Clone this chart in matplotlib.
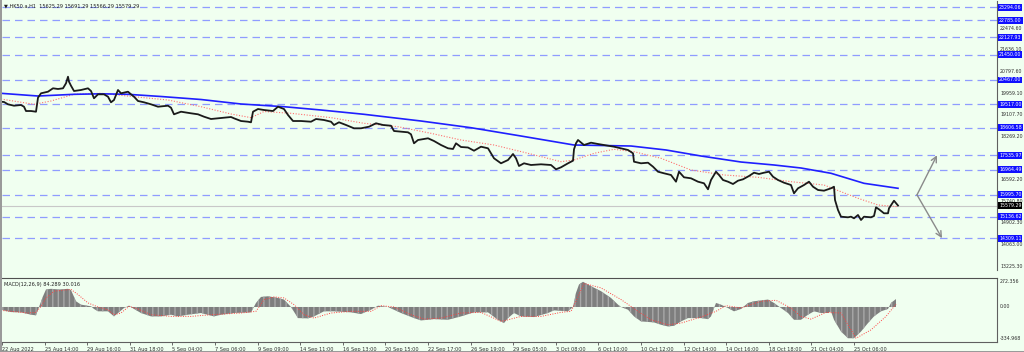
import matplotlib
matplotlib.use("Agg")
import matplotlib.pyplot as plt
from matplotlib.transforms import blended_transform_factory
from matplotlib.patches import Rectangle

# ---------------- data ----------------
title_text = "HK50.a,H1  15625.29 15691.29 15566.29 15579.29"
macd_text = "MACD(12,26,9) 84.289 30.016"

# bar index (hourly bars) and close prices
price_x = [0, 3, 7, 13, 20, 23, 25, 30, 35, 37, 40, 47, 52, 57, 62, 65, 67, 68, 70, 73,
           80, 87, 90, 93, 97, 103, 107, 110, 113, 117, 120, 127, 130, 133, 137, 143, 150, 157, 167, 170,
           173, 180, 190, 197, 203, 210, 217, 223, 230, 233, 240, 247, 250, 252, 257, 263, 272, 277, 283, 287,
           292, 300, 310, 315, 323, 330, 333, 338, 345, 353, 360, 368, 375, 382, 390, 393, 400, 407, 410, 413,
           417, 427, 433, 440, 447, 452, 455, 460, 467, 473, 480, 487, 493, 500, 507, 512, 515, 518, 523, 530,
           540, 550, 555, 560, 567, 572, 573, 575, 577, 583, 590, 597, 603, 613, 620, 627, 632, 633, 640, 647,
           652, 657, 663, 670, 675, 678, 683, 690, 697, 703, 707, 710, 715, 718, 722, 727, 732, 737, 742, 748,
           753, 758, 763, 768, 772, 777, 783, 790, 793, 797, 803, 808, 812, 817, 823, 830, 833, 834, 837, 840,
           847, 850, 853, 857, 860, 863, 870, 873, 875, 878, 883, 887, 888, 893, 897]
price = [19620, 19609, 19519, 19465, 19492, 19426, 19258, 19258, 19231, 19776, 19947, 20010, 20142, 20115, 20142, 20337, 20593, 20399, 20243, 20037,
         20076, 20142, 20037, 19753, 19908, 19908, 19815, 19597, 19687, 20076, 19947, 20010, 19908, 19815, 19648, 19597, 19519, 19426, 19465, 19387,
         19130, 19231, 19169, 19130, 19037, 18947, 18974, 18998, 19025, 18974, 18869, 18842, 18819, 19231, 19336, 19297, 19258, 19426, 19336, 19103,
         18869, 18869, 18842, 18947, 18908, 18842, 18714, 18819, 18714, 18585, 18585, 18647, 18780, 18714, 18686, 18480, 18453, 18429, 18352, 18001,
         18130, 18196, 18091, 17935, 17807, 17780, 18001, 17857, 17838, 17713, 17869, 17807, 17418, 17223, 17351, 17585, 17418, 17118, 17223, 17157,
         17184, 17157, 16989, 17067, 17223, 17324, 17768, 18001, 18130, 17935, 18025, 17974, 17935, 17869, 17807, 17741, 17612, 17285, 17223, 17246,
         17091, 16896, 16834, 16768, 16507, 16896, 16678, 16639, 16507, 16445, 16211, 16573, 16896, 16768, 16573, 16507, 16417, 16546, 16600, 16729,
         16857, 16807, 16857, 16896, 16701, 16573, 16468, 16378, 16055, 16250, 16378, 16507, 16312, 16184, 16157, 16250, 16312, 15795, 15406, 15145,
         15121, 15145, 15082, 15211, 15016, 15145, 15121, 15172, 15510, 15432, 15277, 15277, 15472, 15767, 15579.29]

# slow moving average (blue)
ma_slow_x = [0, 37, 73, 100, 127, 160, 200, 240, 283, 320, 363, 420, 470, 520, 573, 630, 665, 700, 740, 773, 800, 830, 863, 897]
ma_slow = [19947, 19842, 19908, 19928, 19908, 19823, 19706, 19531, 19426, 19297, 19130, 18869, 18608, 18285, 17935, 17896, 17741, 17507, 17273, 17157, 17040, 16834, 16444, 16250]

# fast moving average (red dotted)
ma_fast_x = [0, 33, 50, 73, 100, 133, 167, 200, 230, 250, 263, 290, 330, 363, 397, 430, 460, 493, 527, 560, 573, 593, 613, 633, 660, 690, 723, 757, 790, 823, 840, 857, 877, 897]
ma_fast = [19725, 19519, 19648, 19908, 19947, 19815, 19687, 19426, 19142, 19000, 19239, 19169, 19000, 18780, 18647, 18390, 18130, 17935, 17612, 17285, 17351, 17612, 17768, 17674, 17418, 16962, 16768, 16678, 16507, 16378, 16118, 15861, 15600, 15534]

# horizontal levels (blue dashed with labels)
levels = [23294.06, 22785.00, 22127.93, 21450.00, 20467.00, 19517.00, 18606.58, 17535.97, 16964.49, 15995.70, 15136.62, 14309.11]
current_price = 15579.29
price_ticks = [22474.60, 21636.10, 20797.60, 19959.10, 19107.70, 18269.20, 16592.20, 15740.80, 14902.30, 14063.00, 13225.30]

# projection arrows
arrow_x = [916, 936, 941]
arrow_from = 15995.70
arrow_up_to = 17535.97
arrow_down_to = 14309.11

# MACD histogram
macd_x = [0, 10, 20, 30, 35, 38, 42, 45, 50, 58, 67, 70, 75, 80, 90, 93, 97, 107, 113, 117,
          123, 128, 133, 140, 150, 160, 170, 177, 187, 200, 213, 220, 233, 250, 255, 260, 267, 277, 283, 290,
          297, 307, 313, 323, 333, 350, 360, 370, 377, 387, 400, 413, 420, 433, 447, 460, 473, 487, 497, 503,
          507, 513, 520, 533, 547, 553, 567, 572, 575, 578, 582, 590, 600, 610, 617, 620, 627, 633, 640, 653,
          660, 667, 673, 680, 687, 700, 707, 710, 715, 720, 727, 733, 740, 747, 753, 767, 773, 780, 787, 793,
          800, 807, 813, 820, 827, 830, 833, 840, 847, 853, 860, 867, 873, 880, 887, 890, 895]
macd = [-29, -54, -57, -82, -89, 0, 114, 186, 193, 186, 193, 179, 61, 25, 7, -21, -46, -46, -100, -64,
        -11, 14, -21, -64, -100, -100, -82, -100, -82, -64, -100, -82, -64, -57, 43, 107, 114, 96, 79, 0,
        -118, -121, -100, -46, -46, -57, -75, -29, 14, 0, -64, -118, -143, -129, -136, -100, -57, -57, -136, -171,
        -118, -64, -100, -107, -64, -36, -46, 0, 150, 239, 268, 221, 168, 96, 25, 0, -29, -100, -153, -164,
        -189, -207, -200, -153, -118, -118, -129, -100, 43, 25, -11, -46, -21, 43, 61, 79, 43, -11, -64, -136,
        -136, -82, -46, -64, -64, -46, -136, -261, -332, -332, -261, -171, -100, -46, -21, 43, 84.289]

# MACD signal (red dotted)
signal_x = [0, 10, 27, 35, 40, 45, 53, 63, 70, 77, 87, 97, 107, 113, 120, 128, 137, 150, 170, 190,
            210, 240, 255, 263, 273, 283, 293, 303, 313, 330, 350, 370, 380, 393, 410, 423, 440, 460, 480, 500,
            507, 520, 540, 560, 570, 575, 583, 600, 620, 637, 650, 667, 680, 700, 715, 725, 740, 760, 775, 790,
            800, 810, 825, 840, 850, 855, 870, 885, 895]
signal = [-36, -46, -64, -57, 7, 96, 168, 179, 186, 132, 43, 0, -29, -82, -64, 7, -21, -82, -100, -100,
          -82, -64, -46, 79, 107, 96, 25, -82, -118, -64, -46, -46, 14, 0, -82, -129, -118, -64, -57, -153,
          -136, -100, -100, -57, -46, 61, 250, 203, 79, -46, -136, -189, -171, -107, -46, 14, -11, 61, 71, -11,
          -100, -129, -57, -64, -243, -332, -243, -100, 30.016]
macd_ticks = [272.356, 0.00, -334.968]

date_labels = ["22 Aug 2022", "25 Aug 14:00", "29 Aug 16:00", "31 Aug 18:00", "5 Sep 04:00", "7 Sep 06:00",
               "9 Sep 09:00", "14 Sep 11:00", "16 Sep 13:00", "20 Sep 15:00", "22 Sep 17:00", "26 Sep 19:00",
               "29 Sep 05:00", "3 Oct 08:00", "6 Oct 10:00", "10 Oct 12:00", "12 Oct 14:00", "14 Oct 16:00",
               "18 Oct 18:00", "21 Oct 04:00", "25 Oct 06:00"]

# ---------------- style ----------------
BG = "#f0fff0"
W, H = 1024, 352
plt.rcParams['font.family'] = ['DejaVu Sans']

fig = plt.figure(figsize=(W / 100, H / 100), dpi=100, facecolor=BG)

def fy(px):
    return 1 - px / H

x_left, x_right = 2, 997
ax = fig.add_axes([x_left / W, fy(270), (x_right - x_left) / W, fy(1) - fy(270)], facecolor=BG)
ax2 = fig.add_axes([x_left / W, fy(342), (x_right - x_left) / W, fy(278) - fy(342)], facecolor=BG, sharex=ax)

ax.set_xlim(1, 996)
ax.set_ylim(13070, 23540)
ax2.set_ylim(-372, 308)

for a in (ax, ax2):
    for s in ("left", "top", "bottom"):
        a.spines[s].set_visible(False)
    a.spines["right"].set_color("#606060")
    a.spines["right"].set_linewidth(0.8)
    a.set_yticks([])
ax2.spines["top"].set_visible(True)
ax2.spines["top"].set_color("#505050")
ax2.spines["top"].set_linewidth(0.8)
ax2.spines["bottom"].set_visible(True)
ax2.spines["bottom"].set_color("#606060")
ax2.spines["bottom"].set_linewidth(0.8)

# levels
for lv in levels:
    ax.axhline(lv, color="#8f9cff", lw=0.9, dashes=(6, 4), zorder=1)
ax.axhline(current_price, color="#c8c8c8", lw=0.8, zorder=1)

# MAs and price
ax.plot(ma_fast_x, ma_fast, color="#ff7070", lw=0.8, ls=(0, (1, 1.5)), zorder=2)
ax.plot(ma_slow_x, ma_slow, color="#1f1fff", lw=1.2, zorder=3)
ax.plot(price_x, price, color="#1a1a1a", lw=1.3, zorder=4)

# arrows
ax.annotate("", xy=(arrow_x[1], arrow_up_to), xytext=(arrow_x[0], arrow_from),
            arrowprops=dict(arrowstyle="->", color="#8a8a8a", lw=1.0, shrinkA=0, shrinkB=0))
ax.annotate("", xy=(arrow_x[2], arrow_down_to), xytext=(arrow_x[0], arrow_from),
            arrowprops=dict(arrowstyle="->", color="#8a8a8a", lw=1.0, shrinkA=0, shrinkB=0))

# right axis labels
FS = 3.4
tr = blended_transform_factory(ax.transAxes, ax.transData)
for t in price_ticks:
    ax.text(1.003, t, f"{t:.2f}", transform=tr, fontsize=FS, color="#303030",
            va="center", ha="left", clip_on=False)
for lv in levels:
    ax.text(1.002, lv, f"{lv:.2f}", transform=tr, fontsize=FS, color="white",
            va="center", ha="left", clip_on=False,
            bbox=dict(boxstyle="square,pad=0.2", fc="#1010ff", ec="none"))
ax.text(1.002, current_price, f"{current_price:.2f}", transform=tr, fontsize=FS, color="white",
        va="center", ha="left", clip_on=False,
        bbox=dict(boxstyle="square,pad=0.2", fc="#000000", ec="none"))

ax.text(0.002, 0.982, "\u25bc " + title_text, transform=ax.transAxes, fontsize=3.6,
        color="#202020", va="center", ha="left")

# MACD panel
ax2.fill_between(macd_x, 0, macd, facecolor="#7e7e7e", edgecolor="#a8a8a8", hatch="|||",
                 linewidth=0, zorder=2)
ax2.plot(signal_x, signal, color="#ff4040", lw=0.7, ls=(0, (1, 1.5)), zorder=3)
tr2 = blended_transform_factory(ax2.transAxes, ax2.transData)
for t in macd_ticks:
    lab = f"{t:.3f}" if t != 0 else "0.00"
    ax2.text(1.003, t, lab, transform=tr2, fontsize=FS, color="#303030",
             va="center", ha="left", clip_on=False)
ax2.text(0.002, 0.9, macd_text, transform=ax2.transAxes, fontsize=3.6,
         color="#202020", va="center", ha="left")

# date ticks
first_tick, step = 1, 42.6
tick_pos = [first_tick + i * step for i in range(len(date_labels))]
ax2.set_xticks(tick_pos)
ax2.set_xticklabels(date_labels, fontsize=3.6, color="#303030")
for lab in ax2.get_xticklabels():
    lab.set_ha("left")
ax2.tick_params(axis="x", length=2.5, width=0.6, color="#505050", pad=1)
ax.tick_params(axis="x", bottom=False, labelbottom=False)

# left gray border and bottom line
fig.patches.append(Rectangle((0, 0), 2 / W, 1, transform=fig.transFigure, fc="#9a9a9a", ec="none"))
fig.patches.append(Rectangle((0, 0), 1, 1.5 / H, transform=fig.transFigure, fc="#9a9a9a", ec="none"))

fig.savefig("out.png", dpi=100, facecolor=BG)
